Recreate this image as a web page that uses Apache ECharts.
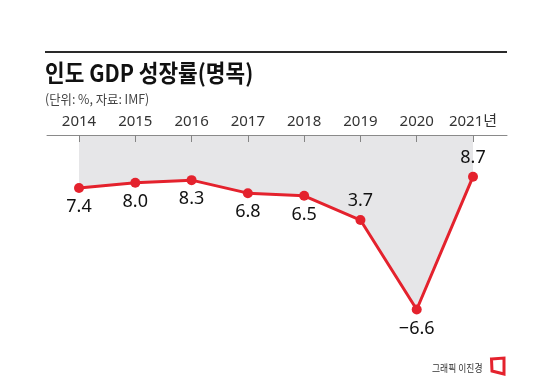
<!DOCTYPE html>
<html>
<head>
<meta charset="utf-8">
<script src="https://cdn.jsdelivr.net/npm/echarts@6/dist/echarts.min.js"></script>
<style>
html,body{margin:0;padding:0;background:#fff;}
#c{width:550px;height:383px;}
</style>
</head>
<body>
<div id="c"></div>
<script>
const years = ['2014','2015','2016','2017','2018','2019','2020','2021년'];
const growth = [7.4, 8.0, 8.3, 6.8, 6.5, 3.7, -6.6, 8.7];
const labelsAbove = ['2019', '2021년'];

const RED = '#e4222d';
const chart = echarts.init(document.getElementById('c'), null, {renderer: 'canvas'});

const seriesData = growth.map((v, i) => ({
  value: v,
  label: { position: labelsAbove.indexOf(years[i]) >= 0 ? 'top' : 'bottom' }
}));

chart.setOption({
  animation: false,
  backgroundColor: '#ffffff',
  grid: [
    { left: 79, right: 77, top: 135, bottom: 44 },
    { left: 47, right: 43, top: 135, bottom: 44 }
  ],
  xAxis: [
    {
      type: 'category',
      gridIndex: 0,
      data: years,
      position: 'top',
      boundaryGap: false,
      z: 10,
      axisLine: { show: false, onZero: false },
      axisTick: { show: true, inside: true, length: 7, interval: 0, lineStyle: { color: '#858585', width: 1 } },
      axisLabel: { color: '#333', fontSize: 15, interval: 0, fontFamily: 'Noto Sans, "Noto Sans CJK KR"', margin: 6 },
      splitLine: { show: false }
    },
    {
      type: 'value',
      gridIndex: 1,
      position: 'top',
      min: 0,
      max: 1,
      z: 10,
      axisLine: { show: true, onZero: false, lineStyle: { color: '#8a8a8a', width: 1 } },
      axisTick: { show: false },
      axisLabel: { show: false },
      splitLine: { show: false }
    }
  ],
  yAxis: [
    { type: 'value', gridIndex: 0, min: -10, max: 13.5, show: false, splitLine: { show: false } },
    { type: 'value', gridIndex: 1, min: 0, max: 1, show: false, splitLine: { show: false } }
  ],
  series: [{
    type: 'line',
    xAxisIndex: 0,
    yAxisIndex: 0,
    data: seriesData,
    symbol: 'circle',
    symbolSize: 10,
    lineStyle: { color: RED, width: 3 },
    itemStyle: { color: RED },
    areaStyle: { origin: 'end', color: '#e6e6e8', opacity: 1 },
    label: {
      show: true,
      distance: 5,
      color: '#111',
      fontSize: 18,
      fontFamily: 'Noto Sans',
      formatter: p => (p.value < 0 ? '\u2212' : '') + Math.abs(p.value).toFixed(1)
    },
    z: 2
  }],
  graphic: [
    { type: 'line', shape: { x1: 45, y1: 52, x2: 507, y2: 52 }, style: { stroke: '#2a2a2a', lineWidth: 2 } },
    { type: 'text', x: 45, y: 73, scaleX: 0.89,
      style: { text: '인도 GDP 성장률(명목)', font: 'bold 24px "Noto Sans CJK KR"', fill: '#111', textVerticalAlign: 'middle', textAlign: 'left' } },
    { type: 'text', x: 45, y: 99, scaleX: 0.95,
      style: { text: '(단위: %, 자료: IMF)', font: '13px "Noto Sans CJK KR"', fill: '#444', textVerticalAlign: 'middle', textAlign: 'left' } },
    { type: 'text', x: 432, y: 368, scaleX: 0.88,
      style: { text: '그래픽 이진경', font: '10px "Noto Sans CJK KR"', fill: '#333', textVerticalAlign: 'middle', textAlign: 'left' } },
    { type: 'polygon', shape: { points: [[491.5, 359], [504, 358], [504, 374], [492, 371]] },
      style: { fill: '#fff', stroke: RED, lineWidth: 3 } }
  ]
});
</script>
</body>
</html>
